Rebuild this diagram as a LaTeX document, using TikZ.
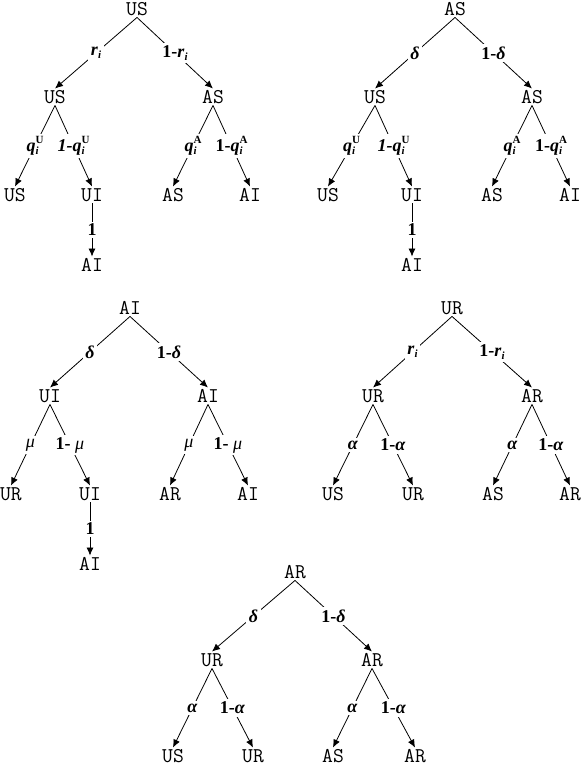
\documentclass[tikz,border=0pt]{standalone}
\usepackage{fontspec}
\setmainfont{Liberation Serif}
\usetikzlibrary{arrows.meta}
\newcommand\bi[1]{\textbf{\textit{#1}}}
\newcommand\smallsz{\fontsize{11}{11}\selectfont}
\newcommand\ssup[2]{\rlap{\raisebox{-3.5pt}{\smallsz #1}}\raisebox{7.5pt}{\smallsz #2}}
\newcommand\ri{\bi{r}\raisebox{-3.5pt}{\smallsz\bi{i}}}
\newcommand\qU{\bi{q}\ssup{\bi{i}}{\textbf{U}}}
\newcommand\qA{\bi{q}\ssup{\bi{i}}{\textbf{A}}}
\begin{document}
\begin{tikzpicture}[x=1pt,y=-1pt,
  tn/.style={font=\ttfamily\fontsize{21}{22}\selectfont\addfontfeature{FakeStretch=0.88,FakeBold=0.4}, inner sep=2pt, text height=12.5pt, text depth=0pt},
  lbl/.style={fill=white, inner sep=2.5pt, font=\fontsize{18}{19}\selectfont},
  arr/.style={line width=0.8pt, -{Latex[length=8pt,width=7pt]}}]
\useasboundingbox (0,0) rectangle (582,766);
% ---------- Tree 1 ----------
\node[tn] (a0) at (137,9) {US};
\node[tn] (a1) at (55,97) {US};
\node[tn] (a2) at (213,97) {AS};
\node[tn] (a11) at (15,195) {US};
\node[tn] (a12) at (92,195) {UI};
\node[tn] (a21) at (173,195) {AS};
\node[tn] (a22) at (250,195) {AI};
\node[tn] (a3) at (92,265) {AI};
\draw[arr] (a0.south) -- node[lbl]{\ri} (a1.north);
\draw[arr] (a0.south) -- node[lbl]{\textbf{1-}\ri} (a2.north);
\draw[arr] (a1.south) -- node[lbl]{\qU} (a11.north);
\draw[arr] (a1.south) -- node[lbl]{\bi{1-q}\ssup{\bi{i}}{\textbf{U}}} (a12.north);
\draw[arr] (a2.south) -- node[lbl]{\qA} (a21.north);
\draw[arr] (a2.south) -- node[lbl]{\textbf{1-}\qA} (a22.north);
\draw[arr] (a12.south) -- node[lbl]{\textbf{1}} (a3.north);
% ---------- Tree 2 ----------
\node[tn] (b0) at (455,9) {AS};
\node[tn] (b1) at (375,97) {US};
\node[tn] (b2) at (532,97) {AS};
\node[tn] (b11) at (328,195) {US};
\node[tn] (b12) at (412,195) {UI};
\node[tn] (b21) at (492,195) {AS};
\node[tn] (b22) at (570,195) {AI};
\node[tn] (b3) at (412,265) {AI};
\draw[arr] (b0.south) -- node[lbl]{\bi{δ}} (b1.north);
\draw[arr] (b0.south) -- node[lbl]{\textbf{1-}\bi{δ}} (b2.north);
\draw[arr] (b1.south) -- node[lbl]{\qU} (b11.north);
\draw[arr] (b1.south) -- node[lbl]{\bi{1-q}\ssup{\bi{i}}{\textbf{U}}} (b12.north);
\draw[arr] (b2.south) -- node[lbl]{\qA} (b21.north);
\draw[arr] (b2.south) -- node[lbl]{\textbf{1-}\qA} (b22.north);
\draw[arr] (b12.south) -- node[lbl]{\textbf{1}} (b3.north);
% ---------- Tree 3 ----------
\node[tn] (c0) at (130,308) {AI};
\node[tn] (c1) at (50,396) {UI};
\node[tn] (c2) at (208,396) {AI};
\node[tn] (c11) at (11,494) {UR};
\node[tn] (c12) at (90,494) {UI};
\node[tn] (c21) at (170,494) {AR};
\node[tn] (c22) at (248,494) {AI};
\node[tn] (c3) at (90,564) {AI};
\draw[arr] (c0.south) -- node[lbl]{\bi{δ}} (c1.north);
\draw[arr] (c0.south) -- node[lbl]{\textbf{1-}\bi{δ}} (c2.north);
\draw[arr] (c1.south) -- node[lbl]{\textit{μ}} (c11.north);
\draw[arr] (c1.south) -- node[lbl]{\textbf{1-} \textit{μ}} (c12.north);
\draw[arr] (c2.south) -- node[lbl]{\textit{μ}} (c21.north);
\draw[arr] (c2.south) -- node[lbl]{\textbf{1-} \textit{μ}} (c22.north);
\draw[arr] (c12.south) -- node[lbl]{\textbf{1}} (c3.north);
% ---------- Tree 4 ----------
\node[tn] (d0) at (452,308) {UR};
\node[tn] (d1) at (373,396) {UR};
\node[tn] (d2) at (532,396) {AR};
\node[tn] (d11) at (333,494) {US};
\node[tn] (d12) at (413,494) {UR};
\node[tn] (d21) at (493,494) {AS};
\node[tn] (d22) at (570,494) {AR};
\draw[arr] (d0.south) -- node[lbl]{\ri} (d1.north);
\draw[arr] (d0.south) -- node[lbl]{\textbf{1-}\ri} (d2.north);
\draw[arr] (d1.south) -- node[lbl]{\bi{α}} (d11.north);
\draw[arr] (d1.south) -- node[lbl]{\textbf{1-}\bi{α}} (d12.north);
\draw[arr] (d2.south) -- node[lbl]{\bi{α}} (d21.north);
\draw[arr] (d2.south) -- node[lbl]{\textbf{1-}\bi{α}} (d22.north);
% ---------- Tree 5 ----------
\node[tn] (e0) at (295,572) {AR};
\node[tn] (e1) at (212,660) {UR};
\node[tn] (e2) at (372,660) {AR};
\node[tn] (e11) at (173,756) {US};
\node[tn] (e12) at (253,756) {UR};
\node[tn] (e21) at (333,756) {AS};
\node[tn] (e22) at (415,756) {AR};
\draw[arr] (e0.south) -- node[lbl]{\bi{δ}} (e1.north);
\draw[arr] (e0.south) -- node[lbl]{\textbf{1-}\bi{δ}} (e2.north);
\draw[arr] (e1.south) -- node[lbl]{\bi{α}} (e11.north);
\draw[arr] (e1.south) -- node[lbl]{\textbf{1-}\bi{α}} (e12.north);
\draw[arr] (e2.south) -- node[lbl]{\bi{α}} (e21.north);
\draw[arr] (e2.south) -- node[lbl]{\textbf{1-}\bi{α}} (e22.north);
\end{tikzpicture}
\end{document}
